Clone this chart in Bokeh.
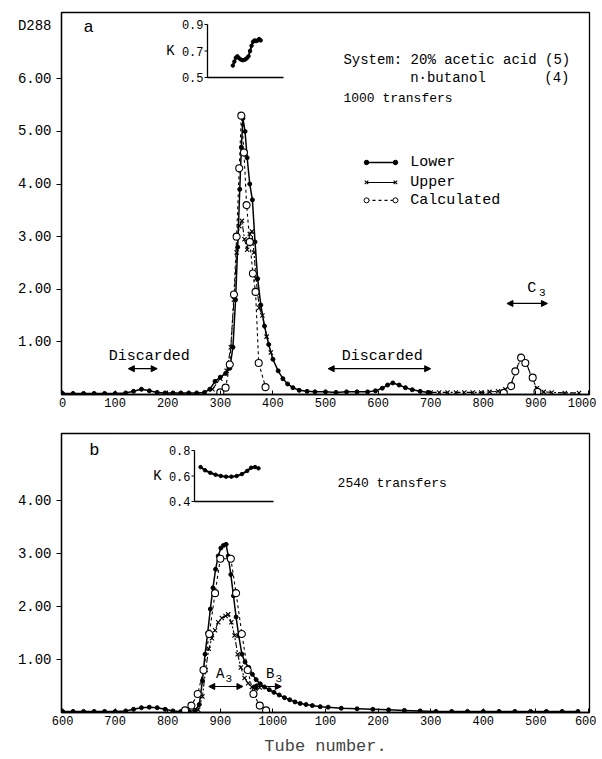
from bokeh.plotting import figure
from bokeh.models import Range1d, FixedTicker, Label, Arrow, NormalHead, PrintfTickFormatter
from bokeh.layouts import column
from bokeh.embed import file_html
from bokeh.resources import INLINE
from bokeh.core.properties import value

FONT = "Liberation Mono"

# ---------------- panel a : 1000 transfers ----------------
a_lower_tube = [0, 20, 40, 60, 80, 100, 120, 135, 150, 165, 180, 195, 210, 225, 240, 255, 270, 280, 290,
                300, 310, 318, 324, 329, 333, 337, 340, 343, 347, 351, 356, 361, 366, 371, 377, 384, 392,
                400, 410, 419, 428, 438, 450, 465, 480, 500, 520, 540, 560, 580, 595, 608, 618, 628, 640,
                652, 665, 680, 695]
a_lower_d = [0.02, 0.02, 0.02, 0.02, 0.02, 0.02, 0.03, 0.06, 0.10, 0.07, 0.04, 0.03, 0.03, 0.03, 0.03, 0.03,
             0.04, 0.10, 0.25, 0.33, 0.40, 0.50, 0.90, 1.80, 2.80, 3.90, 4.70, 5.25, 5.00, 4.50, 4.00, 3.70,
             2.90, 2.20, 1.70, 1.30, 0.95, 0.67, 0.45, 0.30, 0.20, 0.13, 0.08, 0.06, 0.05, 0.05, 0.04, 0.05,
             0.05, 0.05, 0.07, 0.12, 0.18, 0.22, 0.18, 0.13, 0.09, 0.06, 0.04]

a_upper_tube = [285, 300, 312, 320, 326, 331, 336, 341, 346, 351, 356, 360, 364, 368, 374, 380, 388, 396]
a_upper_d = [0.10, 0.30, 0.45, 0.90, 1.80, 2.70, 3.20, 3.30, 2.95, 2.75, 3.05, 3.10, 2.70, 2.20, 1.65,
             1.50, 1.10, 0.80]

a_calc_tube = [300, 310, 318, 326, 331, 336, 340, 345, 350, 356, 362, 367, 373, 386]
a_calc_d = [0.04, 0.13, 0.57, 1.90, 3.00, 4.30, 5.30, 4.60, 3.60, 2.90, 2.30, 1.95, 0.60, 0.14]

c_upper_tube = [700, 716, 732, 748, 764, 780, 796, 812, 828, 842, 852, 862, 872, 882, 892, 902, 915, 930,
                955, 982]
c_upper_d = [0.04, 0.04, 0.04, 0.04, 0.04, 0.04, 0.04, 0.05, 0.06, 0.10, 0.18, 0.45, 0.70, 0.60, 0.32,
             0.12, 0.05, 0.04, 0.03, 0.03]
c_calc_tube = [839, 853, 861, 872, 880, 894, 903]
c_calc_d = [0.03, 0.16, 0.44, 0.70, 0.60, 0.32, 0.05]

# inset a : K versus tube
ka_tube = [300, 306, 312, 318, 325, 332, 340, 348, 355, 362, 368, 374, 380, 386, 392, 398, 404, 410]
ka_k = [0.59, 0.62, 0.65, 0.66, 0.645, 0.635, 0.63, 0.635, 0.645, 0.66, 0.70, 0.74, 0.77, 0.78, 0.775,
        0.78, 0.79, 0.78]
ka_ticks = [0.5, 0.7, 0.9]
ka_domain = (200, 500)

# ---------------- panel b : 2540 transfers ----------------
b_lower_tube = [600, 620, 640, 660, 680, 700, 720, 735, 750, 765, 780, 795, 810, 825, 840, 852, 860, 866,
                871, 876, 881, 886, 891, 896, 901, 906, 911, 915, 920, 925, 930, 935, 941, 947, 954, 961,
                968, 976, 984, 993, 1002, 1012, 1022, 1032, 1042, 1052, 1063, 1075, 1090, 1105, 1130, 1160,
                1190, 1220, 1250, 1280, 1310, 1340, 1370, 1400, 1430, 1460, 1490, 1520, 1550, 1580]
b_lower_d = [0.02, 0.02, 0.02, 0.02, 0.02, 0.02, 0.03, 0.06, 0.09, 0.10, 0.09, 0.06, 0.03, 0.02, 0.02,
             0.04, 0.15, 0.60, 1.10, 1.50, 1.95, 2.35, 2.70, 2.95, 3.10, 3.15, 3.17, 2.95, 2.60, 2.20,
             1.80, 1.45, 1.10, 0.95, 0.85, 0.72, 0.62, 0.54, 0.48, 0.43, 0.38, 0.33, 0.28, 0.24, 0.20,
             0.17, 0.15, 0.13, 0.11, 0.10, 0.08, 0.07, 0.06, 0.05, 0.04, 0.03, 0.02, 0.02, 0.02, 0.02,
             0.02, 0.02, 0.02, 0.02, 0.02, 0.02]

b_upper_tube = [858, 866, 872, 878, 884, 890, 896, 903, 910, 915, 921, 927, 933, 939, 946, 953, 960, 967, 975]
b_upper_d = [0.05, 0.30, 0.80, 1.20, 1.40, 1.55, 1.70, 1.78, 1.82, 1.85, 1.70, 1.45, 1.10, 0.85, 0.65,
             0.55, 0.48, 0.45, 0.47]

b_calc_tube = [833, 845, 857, 868, 879, 890, 900, 920, 930, 941, 952, 963, 975, 987]
b_calc_d = [0.04, 0.13, 0.35, 0.80, 1.48, 2.25, 2.90, 2.90, 2.25, 1.48, 0.80, 0.35, 0.13, 0.04]

kb_tube = [823, 840, 860, 880, 900, 920, 940, 960, 980, 1000, 1015, 1030, 1043]
kb_k = [0.67, 0.645, 0.625, 0.61, 0.60, 0.595, 0.595, 0.60, 0.615, 0.64, 0.665, 0.67, 0.66]
kb_ticks = [0.4, 0.6, 0.8]
kb_domain = (800, 1100)

a_xticks = [0, 100, 200, 300, 400, 500, 600, 700, 800, 900, 1000]
a_yticks = [1, 2, 3, 4, 5, 6]
a_ylabel_tick = 7          # where the "D288" axis title sits
b_xticks = [600, 700, 800, 900, 1000, 1100, 1200, 1300, 1400, 1500, 1600]
b_xlabels = ["600", "700", "800", "900", "1000", "100", "200", "300", "400", "500", "600"]
b_yticks = [1, 2, 3, 4]


def frac_range(lo, hi, f_lo, f_hi):
    span = (hi - lo) / (f_hi - f_lo)
    start = lo - f_lo * span
    return Range1d(start, start + span)


def base_fig(h, xr, ymax, top, bottom, xticks, yticks, extra_label=None):
    p = figure(width=596, height=h, x_range=Range1d(*xr), y_range=Range1d(0, ymax),
               output_backend="svg", toolbar_location=None,
               min_border_left=61, min_border_right=7, min_border_top=top, min_border_bottom=bottom)
    p.xgrid.visible = False
    p.ygrid.visible = False
    p.outline_line_color = "black"
    p.outline_line_width = 1.3
    p.outline_line_alpha = 1
    for ax in (p.xaxis, p.yaxis):
        ax.axis_line_width = 1.3
        ax.axis_line_color = "black"
        ax.major_label_text_font = FONT
        ax.major_label_text_color = "black"
    p.xaxis.ticker = FixedTicker(ticks=xticks)
    p.xaxis.major_tick_line_color = "black"
    p.xaxis.minor_tick_line_color = None
    p.xaxis.major_tick_in = 4
    p.xaxis.major_tick_out = 0
    p.xaxis.major_label_text_font_size = "12px"
    p.xaxis.major_label_standoff = 3

    # y: labels on "major" ticks (no marks), marks drawn as "minor" ticks
    major = list(yticks) + ([extra_label[0]] if extra_label else [])
    p.yaxis.ticker = FixedTicker(ticks=major, minor_ticks=list(yticks))
    p.yaxis.formatter = PrintfTickFormatter(format="%.2f")
    if extra_label:
        p.yaxis.major_label_overrides = {extra_label[0]: extra_label[1]}
    p.yaxis.major_tick_in = 0
    p.yaxis.major_tick_out = 0
    p.yaxis.major_tick_line_color = None
    p.yaxis.minor_tick_line_color = "black"
    p.yaxis.minor_tick_line_width = 1.1
    p.yaxis.minor_tick_in = 0
    p.yaxis.minor_tick_out = 5
    p.yaxis.major_label_text_font_size = "14px"
    p.yaxis.major_label_standoff = 5
    return p


def series(p, lt, ld, ut, ud, ct, cd):
    if lt:
        p.line(lt, ld, line_color="black", line_width=1.5)
        p.scatter(lt, ld, marker="circle", size=4, fill_color="black", line_color="black")
    p.line(ut, ud, line_color="black", line_width=1.1, line_dash="6 2 2 2")
    p.scatter(ut, ud, marker="x", size=6, line_color="black", line_width=1.1)
    p.line(ct, cd, line_color="black", line_width=1.1, line_dash="3 3")
    p.scatter(ct, cd, marker="circle", size=7, fill_color="white", line_color="black", line_width=1.1)


def label(p, x, y, text, size, align="left", **kw):
    p.add_layout(Label(x=x, y=y, text=text, text_font=FONT, text_font_size=size,
                       text_align=align, text_baseline="middle", text_color="black", **kw))


def arrow(p, x0, x1, y):
    p.add_layout(Arrow(start=NormalHead(size=6, fill_color="black", line_color="black"),
                       end=NormalHead(size=6, fill_color="black", line_color="black"),
                       x_start=x0, y_start=y, x_end=x1, y_end=y, line_width=1.2, line_color="black"))


def inset(p, xn, yn, kt, kk, ticks, dom, unit, tickfmt):
    kw = dict(x_range_name=xn, y_range_name=yn)
    p.line([dom[0], dom[0], dom[1]], [ticks[-1], ticks[0], ticks[0]], line_color="black", line_width=1.3, **kw)
    tl = 3 * unit
    p.segment(x0=[dom[0] - tl] * len(ticks), y0=ticks, x1=[dom[0]] * len(ticks), y1=ticks,
              line_color="black", line_width=1.1, **kw)
    p.text(x=[dom[0] - 4 * unit] * len(ticks), y=ticks, text=[tickfmt % t for t in ticks],
           text_font=value(FONT), text_font_size="12px", text_align="right", text_baseline="middle",
           text_color="black", **kw)
    p.text(x=[dom[0] - 37 * unit], y=[ticks[1]], text=["K"], text_font=value(FONT), text_font_size="14px",
           text_align="center", text_baseline="middle", text_color="black", **kw)
    p.line(kt, kk, line_color="black", line_width=2, **kw)
    p.scatter(kt, kk, marker="circle", size=3.5, fill_color="black", line_color="black", **kw)


# ---------------- figure a ----------------
pa = base_fig(420, (-2, 1002), 7.26, 12, 26, a_xticks, a_yticks,
              extra_label=(a_ylabel_tick, "D288"))
pa.extra_x_ranges = {"ka": frac_range(ka_domain[0], ka_domain[1], (207 - 61) / 528, (283 - 61) / 528)}
pa.extra_y_ranges = {"kk": frac_range(0.5, 0.9, (394 - 77) / 382, (394 - 24) / 382)}
inset(pa, "ka", "kk", ka_tube, ka_k, ka_ticks, ka_domain, 300 / 76, "%.1f")

series(pa, a_lower_tube, a_lower_d, a_upper_tube, a_upper_d, a_calc_tube, a_calc_d)
series(pa, None, None, c_upper_tube, c_upper_d, c_calc_tube, c_calc_d)

label(pa, 40, 6.98, "a", "17px")
label(pa, 534, 6.35, "System: 20% acetic acid (5)", "14px")
label(pa, 661, 6.01, "n\u00b7butanol", "14px")
label(pa, 964, 6.01, "(4)", "14px", align="right")
label(pa, 534, 5.63, "1000 transfers", "13px")

# legend
leg_x0, leg_x1, leg_tx = 578, 633, 661
leg_y = [4.41, 4.03, 3.69]
pa.line([leg_x0, leg_x1], [leg_y[0]] * 2, line_color="black", line_width=1.5)
pa.scatter([leg_x0, leg_x1], [leg_y[0]] * 2, marker="circle", size=4.5, fill_color="black", line_color="black")
pa.line([leg_x0, leg_x1], [leg_y[1]] * 2, line_color="black", line_width=1.1)
pa.scatter([leg_x0, leg_x1], [leg_y[1]] * 2, marker="x", size=5, line_color="black", line_width=1.1)
pa.line([leg_x0, leg_x1], [leg_y[2]] * 2, line_color="black", line_width=1.1, line_dash="3 3")
pa.scatter([leg_x0, leg_x1], [leg_y[2]] * 2, marker="circle", size=5, fill_color="white", line_color="black")
for yy, t in zip(leg_y, ["Lower", "Upper", "Calculated"]):
    label(pa, leg_tx, yy, t, "15px")

label(pa, 165, 0.73, "Discarded", "15px", align="center")
arrow(pa, 125, 180, 0.49)
label(pa, 608, 0.73, "Discarded", "15px", align="center")
arrow(pa, 505, 700, 0.49)
label(pa, 892, 2.02, "C", "15px", align="center")
label(pa, 906, 1.93, "3", "11px")
arrow(pa, 845, 922, 1.73)

# ---------------- figure b ----------------
pb = base_fig(338, (598, 1602), 5.26, 13, 46, b_xticks, b_yticks)
pb.xaxis.major_label_overrides = {t: s for t, s in zip(b_xticks, b_xlabels)}
pb.xaxis.axis_label = "Tube number."
pb.xaxis.axis_label_text_font = FONT
pb.xaxis.axis_label_text_font_size = "17px"
pb.xaxis.axis_label_text_font_style = "normal"
pb.xaxis.axis_label_standoff = 9
pb.extra_x_ranges = {"kb": frac_range(kb_domain[0], kb_domain[1], (194 - 61) / 528, (273 - 61) / 528)}
pb.extra_y_ranges = {"kk": frac_range(0.4, 0.8, (712 - 501) / 279, (712 - 450) / 279)}
inset(pb, "kb", "kk", kb_tube, kb_k, kb_ticks, kb_domain, 300 / 79, "%.1f")

series(pb, b_lower_tube, b_lower_d, b_upper_tube, b_upper_d, b_calc_tube, b_calc_d)

label(pb, 651, 4.94, "b", "17px")
label(pb, 1123, 4.32, "2540 transfers", "13px")
label(pb, 900, 0.72, "A", "14px", align="center")
label(pb, 910, 0.64, "3", "11px")
arrow(pb, 878, 943, 0.49)
label(pb, 995, 0.72, "B", "14px", align="center")
label(pb, 1005, 0.64, "3", "11px")
arrow(pb, 959, 1016, 0.49)

layout = column(pa, pb)
open("out.html", "w").write(file_html(layout, INLINE))
